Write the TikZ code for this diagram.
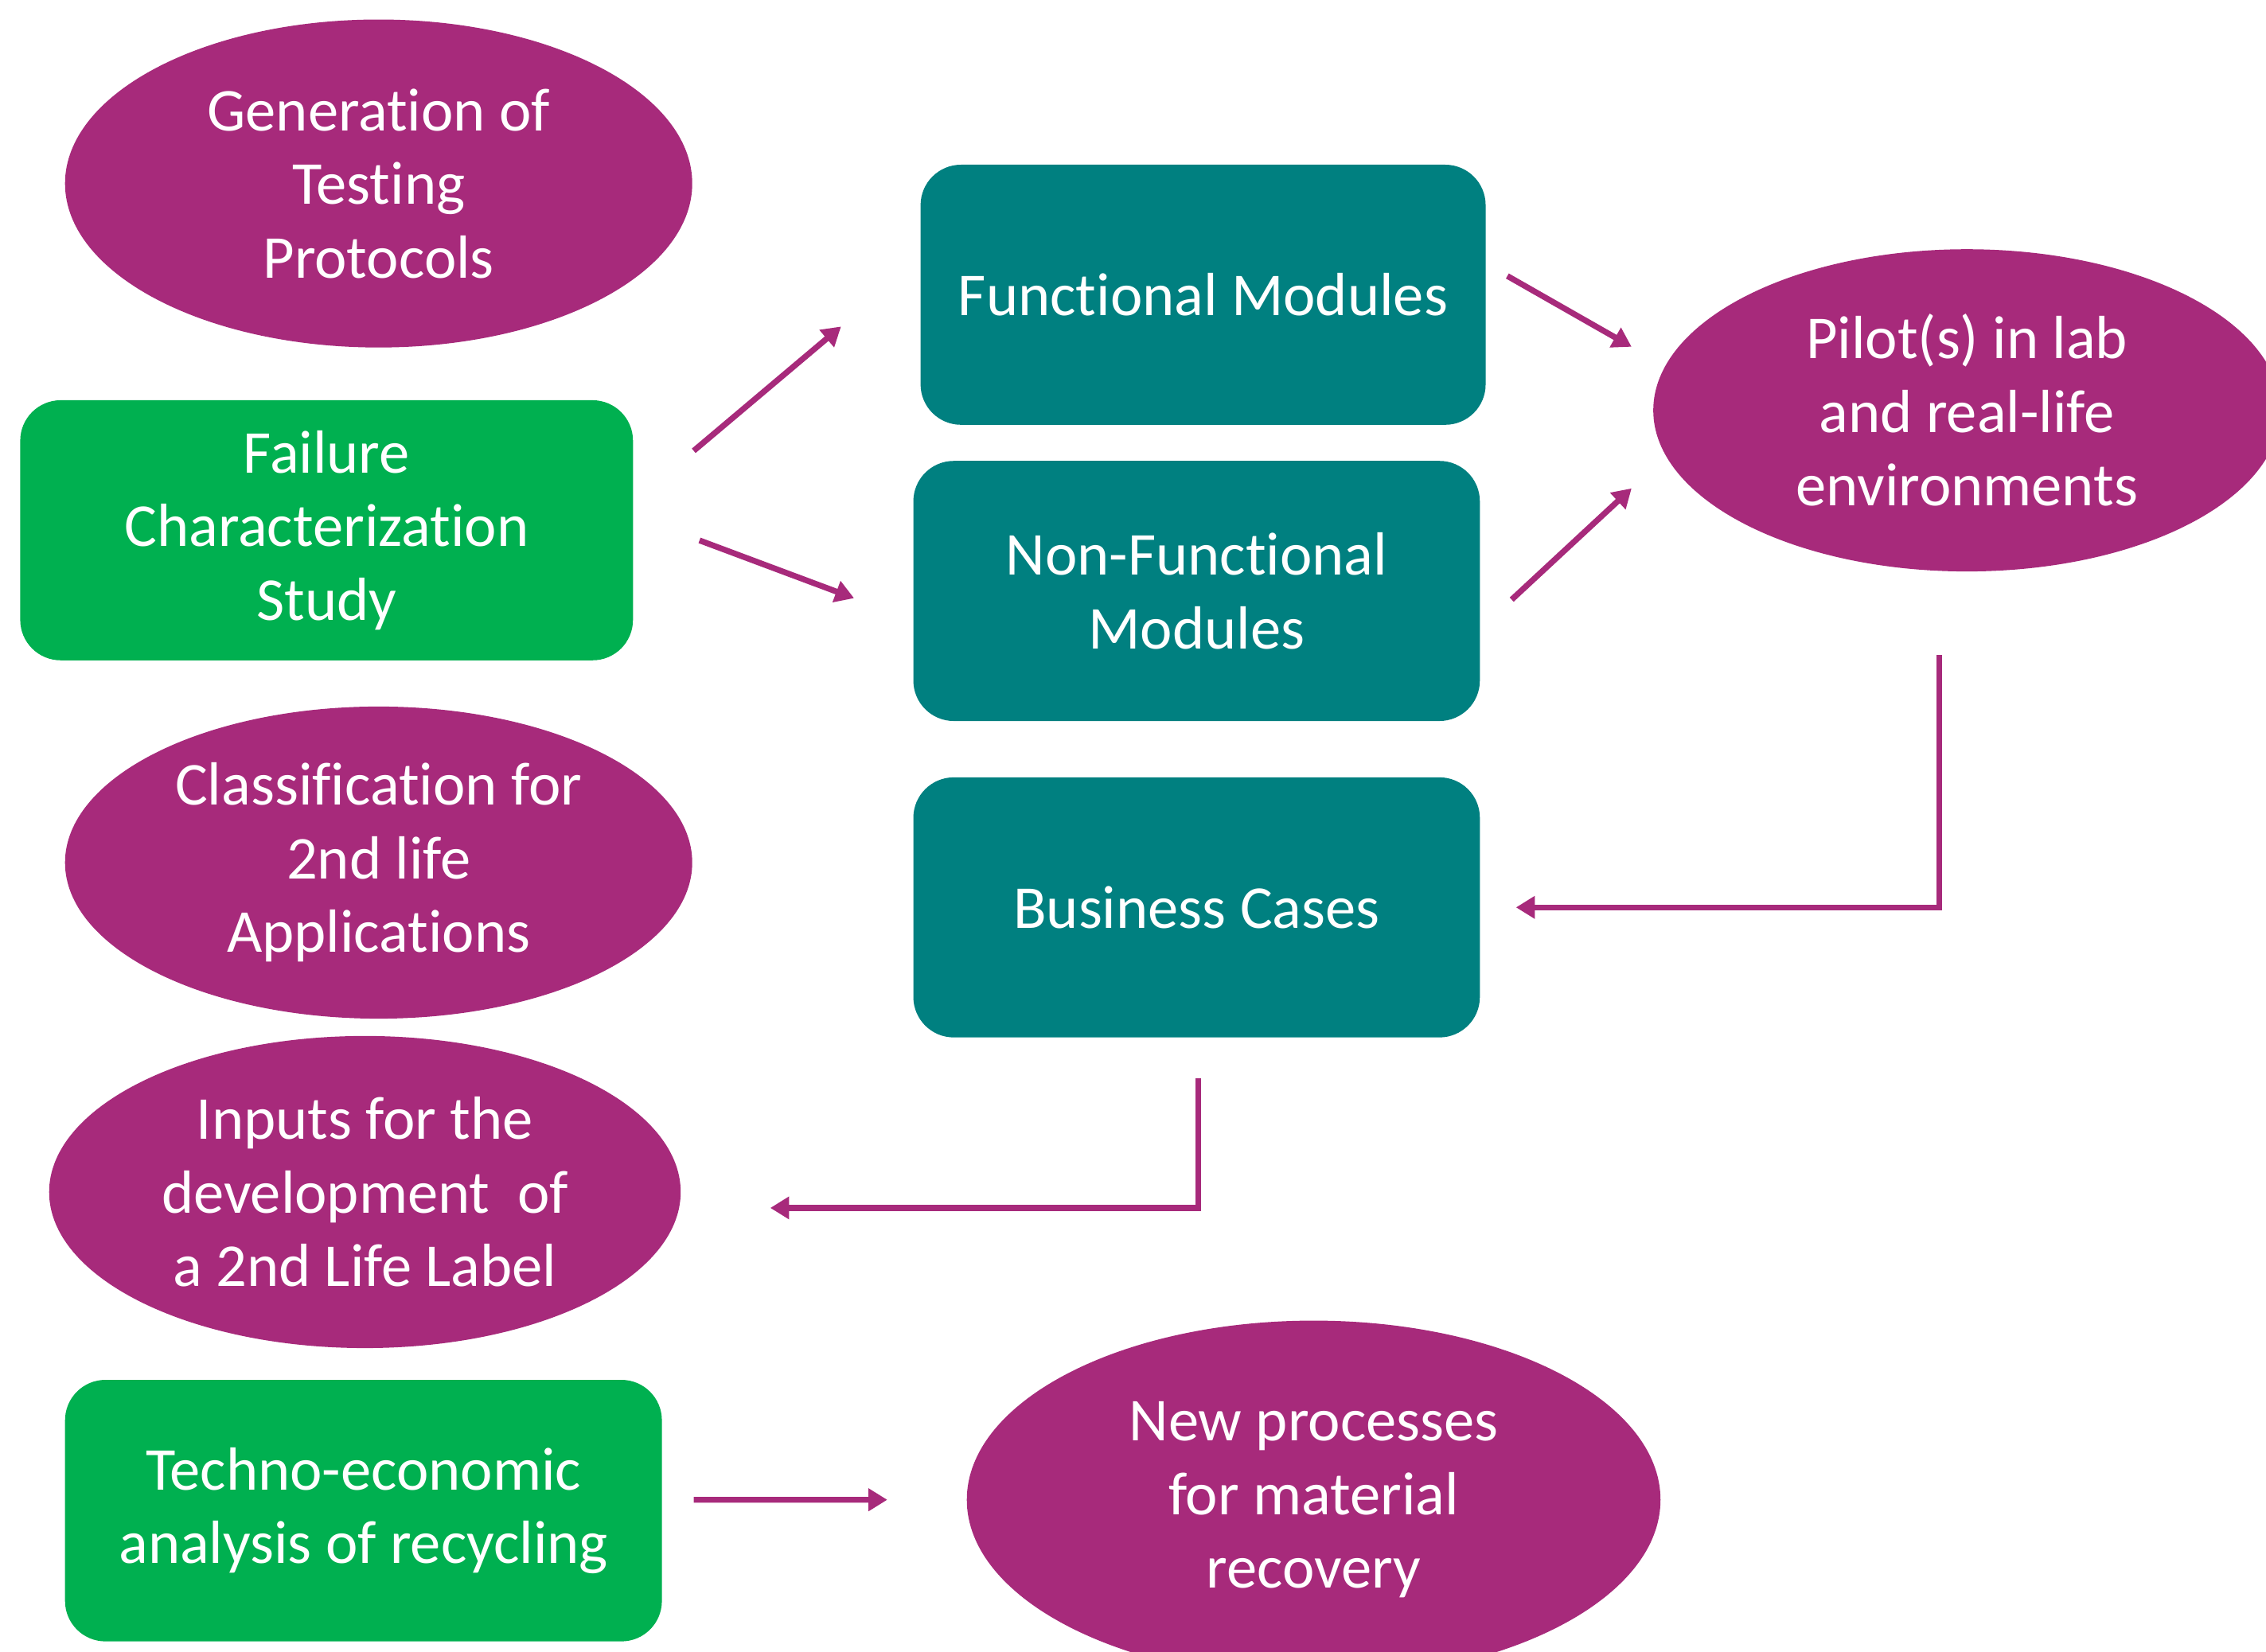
\documentclass[tikz,border=0pt]{standalone}
\usepackage{fontspec}
\setmainfont[Ligatures=NoCommon]{Carlito}
\usetikzlibrary{shapes.geometric, arrows.meta}
\definecolor{plum}{HTML}{A72A7B}
\definecolor{leaf}{HTML}{00B050}
\definecolor{sea}{HTML}{008080}

\begin{document}
\begin{tikzpicture}[->, >={Triangle[length=0.26cm, width=0.3cm]}, line width=2.3pt, color=plum,
    every node/.style={text=white, font=\fontsize{24}{29}\selectfont, align=center, inner sep=0pt},
    sunk/.style={execute at begin node={\rule{0pt}{21pt}}},
    oval/.style={ellipse, fill=plum, minimum width=8.68cm, minimum height=4.4cm},
    greenbox/.style={rectangle, rounded corners=0.56cm, fill=leaf, minimum height=3.6cm, sunk},
    tealbox/.style={rectangle, rounded corners=0.56cm, fill=sea, minimum width=7.84cm, minimum height=3.6cm}]
    \clip (0,0) rectangle (31.36,-22.86);
    \node[oval, minimum height=4.54cm]					(gen)		at (5.24,-2.54)		{Generation of\\Testing\\Protocols};
    \node[greenbox, minimum width=8.48cm]				(fail)		at (4.52,-7.34)		{Failure\\Characterization\\Study};
    \node[oval, minimum height=4.32cm, sunk]			(class)		at (5.24,-11.94)	{Classification for\\2nd life\\Applications};
    \node[oval, minimum width=8.74cm, minimum height=4.32cm]	(inputs)	at (5.05,-16.5)		{Inputs for the\\development\ \ of\\a 2nd Life Label};
    \node[greenbox, minimum width=8.26cm, minimum height=3.62cm]	(techno)	at (5.03,-20.91)	{Techno-economic\\analysis of recycling};
    \node[tealbox, minimum width=7.82cm]				(func)		at (16.65,-4.08)	{Functional Modules};
    \node[tealbox]										(nonfunc)	at (16.56,-8.18)	{Non-Functional\\Modules};
    \node[tealbox]										(biz)		at (16.56,-12.56)	{Business Cases};
    \node[oval, minimum height=4.46cm]					(pilot)		at (27.22,-5.68)	{Pilot(s) in lab\\and real-life\\environments};
    \node[oval, minimum width=9.6cm, minimum height=4.96cm, sunk]	(recov)		at (18.18,-20.76)	{New processes\\for material\\recovery};
    \draw ([shift={(0.8,1.1)}]fail.east) -- ([shift={(-1.06,-0.44)}]func.west);
    \draw ([shift={(0.88,-0.14)}]fail.east) -- ([shift={(-0.78,-0.1)}]nonfunc.west);
    \draw ([shift={(0.26,0.26)}]func.east) -- ([shift={(-0.26,0.88)}]pilot.west);
    \draw ([shift={(0.4,-0.12)}]nonfunc.east) -- ([shift={(-0.26,-1.08)}]pilot.west);
    \draw ([shift={(-0.38,-1.12)}]pilot.south) |- ([shift={(0.46,0)}]biz.east);
    \draw ([shift={(0.02,-0.52)}]biz.south) |- ([shift={(1.2,-0.22)}]inputs.east);
    \draw ([shift={(0.4,0.15)}]techno.east) -- ([shift={(-1.06,0)}]recov.west);
\end{tikzpicture}
\end{document}
